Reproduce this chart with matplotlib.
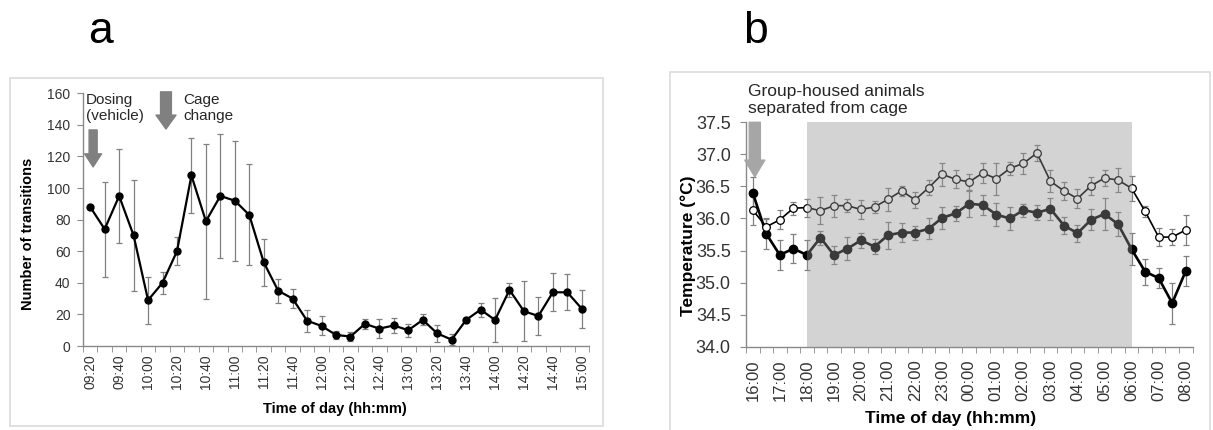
import numpy as np
import matplotlib
matplotlib.use('Agg')
import matplotlib.pyplot as plt
from matplotlib.patches import Rectangle

plt.rcParams['font.family'] = ['Liberation Sans', 'DejaVu Sans']

# Panel a: number of transitions every 10 min, 09:20 - 15:00
labels_a = ['09:20', '09:40', '10:00', '10:20', '10:40', '11:00', '11:20', '11:40', '12:00',
            '12:20', '12:40', '13:00', '13:20', '13:40', '14:00', '14:20', '14:40', '15:00']
counts = [88, 74, 95, 70, 29, 40, 60, 108, 79, 95, 92, 83, 53, 35, 30, 16, 12.7, 7, 6, 14,
          11, 13, 10, 16.5, 8, 4, 16.5, 23, 16.5, 35.5, 22, 19, 34, 34, 23.6]
counts_err = [1.5, 30, 30, 35, 15, 7, 9, 24, 49, 39, 38, 32, 15, 7.6, 6, 7, 6, 2.5, 3, 3,
              6, 5, 4, 3.5, 5.5, 3.5, 1, 4.5, 14, 4.5, 19, 12, 12, 11.5, 12]

# Panel b: body temperature every 30 min, 16:00 - 08:00
labels_b = ['16:00', '17:00', '18:00', '19:00', '20:00', '21:00', '22:00', '23:00', '00:00',
            '01:00', '02:00', '03:00', '04:00', '05:00', '06:00', '07:00', '08:00']
temp_filled = [36.40, 35.76, 35.43, 35.53, 35.43, 35.70, 35.43, 35.53, 35.66, 35.56,
               35.74, 35.78, 35.78, 35.84, 36.01, 36.08, 36.23, 36.21, 36.06, 36.00,
               36.13, 36.09, 36.15, 35.89, 35.77, 35.98, 36.07, 35.91, 35.52, 35.17,
               35.07, 34.68, 35.18]
err_filled = [0.24, 0.23, 0.23, 0.23, 0.24, 0.11, 0.14, 0.18, 0.12, 0.12,
              0.21, 0.15, 0.11, 0.16, 0.17, 0.12, 0.20, 0.15, 0.18, 0.18,
              0.10, 0.12, 0.17, 0.14, 0.13, 0.16, 0.25, 0.19, 0.25, 0.20,
              0.16, 0.32, 0.24]
temp_open = [36.13, 35.87, 35.98, 36.16, 36.17, 36.12, 36.20, 36.20, 36.14, 36.18,
             36.30, 36.43, 36.29, 36.48, 36.69, 36.61, 36.57, 36.71, 36.62, 36.78,
             36.86, 37.02, 36.58, 36.43, 36.31, 36.51, 36.63, 36.60, 36.47, 36.11,
             35.71, 35.71, 35.82]
err_open = [0.23, 0.13, 0.15, 0.10, 0.14, 0.21, 0.17, 0.10, 0.15, 0.10,
            0.18, 0.08, 0.13, 0.12, 0.18, 0.14, 0.12, 0.16, 0.25, 0.10,
            0.16, 0.13, 0.17, 0.14, 0.15, 0.14, 0.13, 0.18, 0.20, 0.08,
            0.14, 0.13, 0.23]
dark_start, dark_end = 4, 28  # 18:00 and 06:00

W, H = 1213, 430
fig = plt.figure(figsize=(W / 100, H / 100), dpi=100)

# light gray frames around the panels
fig.patches.append(Rectangle((10 / W, 4 / H), 593 / W, 348 / H, transform=fig.transFigure,
                             fill=False, edgecolor='#dcdcdc', lw=1.2))
fig.patches.append(Rectangle((670 / W, -10 / H), 540 / W, 368 / H, transform=fig.transFigure,
                             fill=False, edgecolor='#dcdcdc', lw=1.2))

fig.text(88 / W, 1 - 43 / H, 'a', fontsize=32, va='baseline')
fig.text(743 / W, 1 - 43 / H, 'b', fontsize=32, va='baseline')

spine_col = '#898989'
tick_col = '#333333'


def style_axes(ax):
    for s in ['top', 'right']:
        ax.spines[s].set_visible(False)
    for s in ['left', 'bottom']:
        ax.spines[s].set_color(spine_col)
        ax.spines[s].set_linewidth(1.0)


# ---- panel a ----
ax1 = fig.add_axes([83 / W, 84 / H, 506 / W, 252.7 / H])
x_a = np.arange(len(counts))
ax1.errorbar(x_a, counts, yerr=counts_err, fmt='none', ecolor='#808080',
             elinewidth=0.9, capsize=2.5, capthick=0.9, zorder=2)
ax1.plot(x_a, counts, color='black', lw=1.6, marker='o', ms=5, zorder=3)
ax1.set_xlim(-0.5, len(counts) - 0.5)
ax1.set_ylim(0, 160)
ax1.set_yticks(np.arange(0, 161, 20))
ax1.set_xticks(x_a[::2])
ax1.set_xticklabels(labels_a, rotation=90)
ax1.set_xticks(np.arange(-0.5, len(counts), 1), minor=True)
ax1.tick_params(axis='x', which='major', length=0, pad=6, labelsize=10, labelcolor=tick_col)
ax1.tick_params(axis='x', which='minor', length=4, direction='out', color=spine_col)
ax1.tick_params(axis='y', length=4, direction='out', color=spine_col, pad=5,
                labelsize=10, labelcolor=tick_col)
style_axes(ax1)
ax1.set_ylabel('Number of transitions', fontsize=10.5, fontweight='bold', va='center', ha='center')
ax1.yaxis.set_label_coords(-0.109, 0.443)
ax1.set_xlabel('Time of day (hh:mm)', fontsize=10.5, fontweight='bold', va='center', ha='center')
ax1.xaxis.set_label_coords(0.498, -0.249)

ax1.annotate('', xy=(0.2, 113.4), xytext=(0.2, 136.8), annotation_clip=False,
             arrowprops=dict(arrowstyle='simple,head_width=1.22,head_length=0.94,tail_width=0.58',
                             mutation_scale=10, color='#808080', shrinkA=0, shrinkB=0))
ax1.annotate('', xy=(5.24, 137.4), xytext=(5.24, 160.9), annotation_clip=False,
             arrowprops=dict(arrowstyle='simple,head_width=1.44,head_length=1.0,tail_width=0.78',
                             mutation_scale=10, color='#808080', shrinkA=0, shrinkB=0))
ax1.text(-0.28, 160.3, 'Dosing\n(vehicle)', fontsize=11, va='top', ha='left', color='#262626')
ax1.text(6.41, 160.3, 'Cage\nchange', fontsize=11, va='top', ha='left', color='#262626')

# ---- panel b ----
ax2 = fig.add_axes([746 / W, 83.3 / H, 446.5 / W, 224.4 / H])
x_b = np.arange(len(temp_filled))
ax2.errorbar(x_b, temp_filled, yerr=err_filled, fmt='none', ecolor='#808080',
             elinewidth=0.9, capsize=2.5, capthick=0.9, zorder=2)
ax2.errorbar(x_b, temp_open, yerr=err_open, fmt='none', ecolor='#808080',
             elinewidth=0.9, capsize=2.5, capthick=0.9, zorder=2)
ax2.plot(x_b, temp_filled, color='black', lw=1.9, marker='o', ms=6, zorder=3)
ax2.plot(x_b, temp_open, color='black', lw=1.2, marker='o', ms=5.5,
         markerfacecolor='white', markeredgecolor='black', markeredgewidth=0.9, zorder=4)
ax2.axvspan(dark_start, dark_end, color=(0.573, 0.573, 0.573), alpha=0.4, lw=0, zorder=5)
ax2.set_xlim(-0.5, len(temp_filled) - 0.5)
ax2.set_ylim(34.0, 37.5)
ax2.set_yticks(np.arange(34.0, 37.51, 0.5))
ax2.set_yticklabels(['%.1f' % v for v in np.arange(34.0, 37.51, 0.5)])
ax2.set_xticks(x_b[::2])
ax2.set_xticklabels(labels_b, rotation=90)
ax2.set_xticks(np.arange(-0.5, len(temp_filled), 1), minor=True)
ax2.tick_params(axis='x', which='major', length=0, pad=9, labelsize=12, labelcolor=tick_col)
ax2.tick_params(axis='x', which='minor', length=4, direction='out', color=spine_col)
ax2.tick_params(axis='y', length=4, direction='out', color=spine_col, pad=7,
                labelsize=13, labelcolor=tick_col)
style_axes(ax2)
ax2.set_ylabel('Temperature (\u00b0C)', fontsize=12.5, fontweight='bold', va='center', ha='center')
ax2.yaxis.set_label_coords(-0.130, 0.449)
ax2.set_xlabel('Time of day (hh:mm)', fontsize=12.5, fontweight='bold', va='center', ha='center')
ax2.xaxis.set_label_coords(0.458, -0.318)

ax2.annotate('', xy=(0.15, 36.65), xytext=(0.15, 37.5), annotation_clip=False,
             arrowprops=dict(arrowstyle='simple,head_width=1.44,head_length=1.2,tail_width=0.8',
                             mutation_scale=10, color='#a6a6a6', shrinkA=0, shrinkB=0))
ax2.text(-0.35, 38.1, 'Group-housed animals\nseparated from cage', fontsize=12.5,
         va='top', ha='left', color='#262626')

fig.savefig('out.png', dpi=100)
